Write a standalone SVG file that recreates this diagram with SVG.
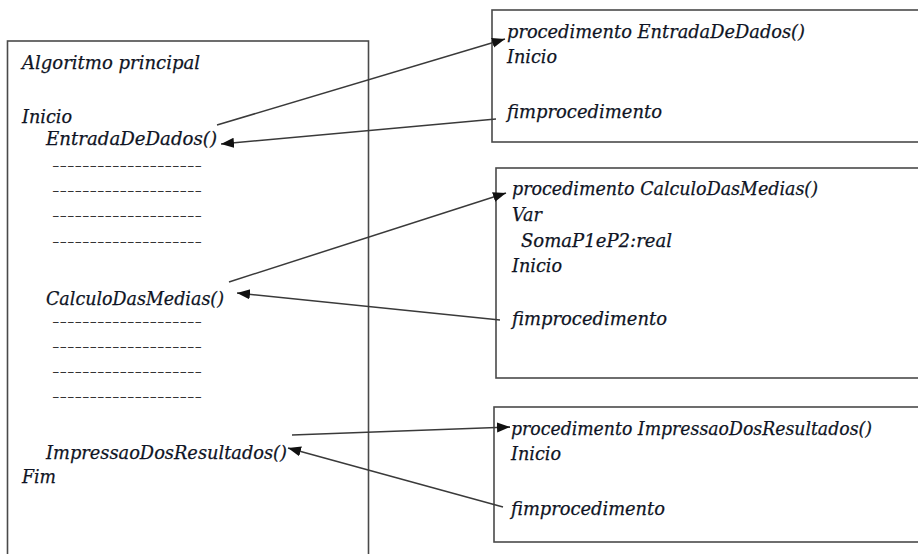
<svg xmlns="http://www.w3.org/2000/svg" width="918" height="554" viewBox="0 0 918 554">
<style>
.box{fill:#fff;stroke:#4a4a4a;stroke-width:1.6}
text{font-family:"DejaVu Serif","Liberation Serif",serif;font-style:italic;font-size:18px;fill:#0f1424;stroke:#0f1424;stroke-width:0.25}
.dash{font-style:normal;font-size:12px;fill:#333;stroke:none}
.conn line{stroke:#3a3a3a;stroke-width:1.5}
</style>
<defs>
<marker id="ah" markerUnits="userSpaceOnUse" markerWidth="14" markerHeight="11" refX="13" refY="5" orient="auto">
<path d="M0,0 L13,5 L0,10 z" fill="#111"/>
</marker>
</defs>
<rect width="918" height="554" fill="#fff"/>
<g id="main">
<rect class="box" x="7.5" y="41" width="361" height="530"/>
<text x="22" y="69" textLength="178" lengthAdjust="spacingAndGlyphs">Algoritmo principal</text>
<text x="22" y="123" textLength="50" lengthAdjust="spacingAndGlyphs">Inicio</text>
<text x="46" y="145" textLength="171" lengthAdjust="spacingAndGlyphs">EntradaDeDados()</text>
<text class="dash" x="52" y="170" textLength="150" lengthAdjust="spacingAndGlyphs">--------------------</text>
<text class="dash" x="52" y="195" textLength="150" lengthAdjust="spacingAndGlyphs">--------------------</text>
<text class="dash" x="52" y="220" textLength="150" lengthAdjust="spacingAndGlyphs">--------------------</text>
<text class="dash" x="52" y="246" textLength="150" lengthAdjust="spacingAndGlyphs">--------------------</text>
<text x="46" y="305" textLength="178" lengthAdjust="spacingAndGlyphs">CalculoDasMedias()</text>
<text class="dash" x="52" y="326" textLength="150" lengthAdjust="spacingAndGlyphs">--------------------</text>
<text class="dash" x="52" y="351" textLength="150" lengthAdjust="spacingAndGlyphs">--------------------</text>
<text class="dash" x="52" y="376" textLength="150" lengthAdjust="spacingAndGlyphs">--------------------</text>
<text class="dash" x="52" y="401" textLength="150" lengthAdjust="spacingAndGlyphs">--------------------</text>
<text x="46" y="459" textLength="241" lengthAdjust="spacingAndGlyphs">ImpressaoDosResultados()</text>
<text x="22" y="483" textLength="34" lengthAdjust="spacingAndGlyphs">Fim</text>
</g>
<g id="proc1">
<rect class="box" x="492" y="10" width="440" height="132"/>
<text x="507" y="38" textLength="298" lengthAdjust="spacingAndGlyphs">procedimento EntradaDeDados()</text>
<text x="507" y="63" textLength="50" lengthAdjust="spacingAndGlyphs">Inicio</text>
<text x="507" y="118" textLength="155" lengthAdjust="spacingAndGlyphs">fimprocedimento</text>
</g>
<g id="proc2">
<rect class="box" x="496" y="168" width="440" height="210"/>
<text x="512" y="195" textLength="306" lengthAdjust="spacingAndGlyphs">procedimento CalculoDasMedias()</text>
<text x="512" y="221" textLength="30" lengthAdjust="spacingAndGlyphs">Var</text>
<text x="521" y="247" textLength="151" lengthAdjust="spacingAndGlyphs">SomaP1eP2:real</text>
<text x="512" y="272" textLength="50" lengthAdjust="spacingAndGlyphs">Inicio</text>
<text x="512" y="325" textLength="155" lengthAdjust="spacingAndGlyphs">fimprocedimento</text>
</g>
<g id="proc3">
<rect class="box" x="494" y="407" width="440" height="135"/>
<text x="511" y="435" textLength="361" lengthAdjust="spacingAndGlyphs">procedimento ImpressaoDosResultados()</text>
<text x="511" y="460" textLength="50" lengthAdjust="spacingAndGlyphs">Inicio</text>
<text x="511" y="515" textLength="154" lengthAdjust="spacingAndGlyphs">fimprocedimento</text>
</g>
<g id="connectors" class="conn">
<line x1="217" y1="125" x2="505" y2="39" marker-end="url(#ah)"/>
<line x1="496" y1="119" x2="221" y2="144" marker-end="url(#ah)"/>
<line x1="229" y1="282" x2="506" y2="193" marker-end="url(#ah)"/>
<line x1="500" y1="320" x2="237" y2="293" marker-end="url(#ah)"/>
<line x1="292" y1="435" x2="510" y2="427" marker-end="url(#ah)"/>
<line x1="503" y1="507" x2="288" y2="448" marker-end="url(#ah)"/>
</g>
</svg>
